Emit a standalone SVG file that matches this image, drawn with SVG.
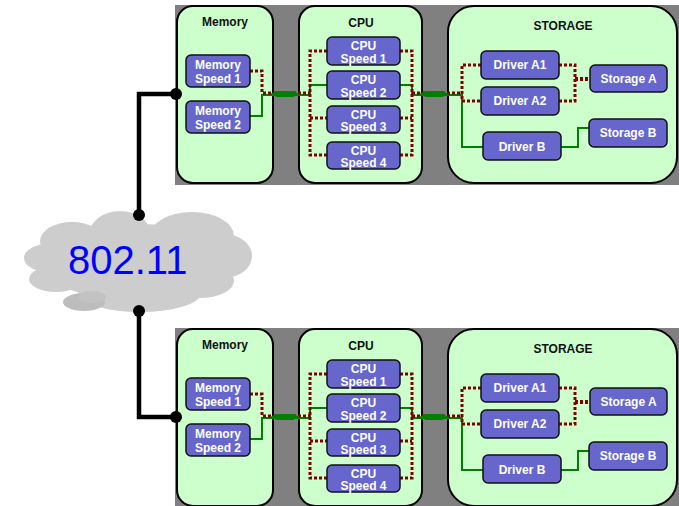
<svg xmlns="http://www.w3.org/2000/svg" width="679" height="506" viewBox="0 0 679 506">
  <style>
    .bg { fill: #808080; }
    .panel { fill: #ccffcc; stroke: #000; stroke-width: 2; }
    .node { fill: #6666cc; stroke: #111; stroke-width: 1.5; }
    .title { font-family: "Liberation Sans", Arial, sans-serif; font-weight: bold; font-size: 12px; fill: #111; text-anchor: middle; }
    .lbl { font-family: "Liberation Sans", Arial, sans-serif; font-weight: bold; font-size: 12px; fill: #fff; text-anchor: middle; }
    .dot { fill: none; stroke: #800000; stroke-width: 3; stroke-dasharray: 3 2; }
    .dot4 { fill: none; stroke: #800000; stroke-width: 4; stroke-dasharray: 3 2; }
    .grn { fill: none; stroke: #008000; stroke-width: 2; }
    .bar { fill: #008000; }
    .wire { fill: none; stroke: #000; stroke-width: 4.5; }
    .cloud ellipse { fill: #cdcdcd; }
    .net { font-family: "Liberation Sans", Arial, sans-serif; font-size: 40px; fill: #0000ff; }
  </style>

  <!-- wireless network cloud -->
  <g id="net-80211" class="cloud">
    <ellipse cx="138" cy="262" rx="100" ry="38"/>
    <ellipse cx="72" cy="241" rx="32" ry="19"/>
    <ellipse cx="120" cy="233" rx="30" ry="22"/>
    <ellipse cx="192" cy="236" rx="42" ry="24"/>
    <ellipse cx="224" cy="256" rx="28" ry="22"/>
    <ellipse cx="200" cy="281" rx="34" ry="17"/>
    <ellipse cx="52" cy="258" rx="28" ry="15"/>
    <ellipse cx="56" cy="279" rx="27" ry="13"/>
    <ellipse cx="140" cy="292" rx="62" ry="20"/>
    <ellipse cx="84" cy="302" rx="21" ry="9" style="fill:#bdbdbd"/>
    <ellipse cx="92" cy="297" rx="14" ry="6" style="fill:#c2c2c2"/>
    <text class="net" x="68" y="273.5">802.11</text>
  </g>

  <!-- upper site -->
  <g id="site-a">
    <rect class="bg" x="175" y="5" width="504" height="180"/>
    <g id="a-memory">
      <rect class="panel" x="177" y="6" width="96" height="177" rx="16"/>
      <text class="title" x="225" y="26">Memory</text>
    </g>
    <g id="a-cpu">
      <rect class="panel" x="299" y="6" width="123" height="177" rx="16"/>
      <text class="title" x="361" y="26.5">CPU</text>
    </g>
    <g id="a-storage">
      <rect class="panel" x="448" y="6" width="229" height="177" rx="26"/>
      <text class="title" x="563" y="30">STORAGE</text>
    </g>

    <g id="a-links">
      <path class="grn" d="M250,116 H262 V95 H310 V85 H327"/>
      <path class="grn" d="M400,85 H412 V95 H462 V147 H483"/>
      <path class="grn" d="M561,147 H578 V128 H589"/>
      <path class="dot" d="M250,71 H262 V93 H310"/>
      <path class="dot" d="M327,51 H310 V155 H327 M310,118 H327"/>
      <path class="dot" d="M400,51 H412 V155 H400 M400,118 H412"/>
      <path class="dot" d="M412,93 H462"/>
      <path class="dot" d="M481,65 H462 V101 H481"/>
      <path class="dot" d="M559,65 H575 V101 H559"/>
      <path class="dot4" d="M575,79 H590"/>
      <polygon class="bar" points="270,94 277,91 293,91 300,94 293,97 277,97"/>
      <polygon class="bar" points="419,94 426,91 442,91 449,94 442,97 426,97"/>
    </g>

    <g id="a-mem1"><rect class="node" x="186" y="55" width="64" height="32" rx="5"/>
      <text class="lbl" x="218" y="68.5">Memory</text><text class="lbl" x="218" y="82.5">Speed 1</text></g>
    <g id="a-mem2"><rect class="node" x="186" y="101" width="64" height="32" rx="5"/>
      <text class="lbl" x="218" y="114.5">Memory</text><text class="lbl" x="218" y="128.5">Speed 2</text></g>
    <g id="a-cpu1"><rect class="node" x="327" y="37" width="73" height="28" rx="5"/>
      <text class="lbl" x="363.5" y="49.5">CPU</text><text class="lbl" x="363.5" y="63">Speed 1</text></g>
    <g id="a-cpu2"><rect class="node" x="327" y="71" width="73" height="28" rx="5"/>
      <text class="lbl" x="363.5" y="83.5">CPU</text><text class="lbl" x="363.5" y="97">Speed 2</text></g>
    <g id="a-cpu3"><rect class="node" x="327" y="106" width="73" height="27" rx="5"/>
      <text class="lbl" x="363.5" y="118.5">CPU</text><text class="lbl" x="363.5" y="131">Speed 3</text></g>
    <g id="a-cpu4"><rect class="node" x="327" y="142" width="73" height="27" rx="5"/>
      <text class="lbl" x="363.5" y="154.5">CPU</text><text class="lbl" x="363.5" y="167">Speed 4</text></g>
    <g id="a-drva1"><rect class="node" x="481" y="51" width="78" height="28" rx="5"/>
      <text class="lbl" x="520" y="69">Driver A1</text></g>
    <g id="a-drva2"><rect class="node" x="481" y="87" width="78" height="28" rx="5"/>
      <text class="lbl" x="520" y="105">Driver A2</text></g>
    <g id="a-drvb"><rect class="node" x="483" y="132" width="78" height="28" rx="5"/>
      <text class="lbl" x="522" y="150.5">Driver B</text></g>
    <g id="a-sta"><rect class="node" x="590" y="65" width="77" height="27" rx="5"/>
      <text class="lbl" x="628.5" y="83">Storage A</text></g>
    <g id="a-stb"><rect class="node" x="589" y="119" width="78" height="28" rx="5"/>
      <text class="lbl" x="628" y="137">Storage B</text></g>
  </g>

  <!-- lower site -->
  <g id="site-b" transform="translate(0,323)">
    <rect class="bg" x="175" y="5" width="504" height="180"/>
    <g id="b-memory">
      <rect class="panel" x="177" y="6" width="96" height="177" rx="16"/>
      <text class="title" x="225" y="26">Memory</text>
    </g>
    <g id="b-cpu">
      <rect class="panel" x="299" y="6" width="123" height="177" rx="16"/>
      <text class="title" x="361" y="26.5">CPU</text>
    </g>
    <g id="b-storage">
      <rect class="panel" x="448" y="6" width="229" height="177" rx="26"/>
      <text class="title" x="563" y="30">STORAGE</text>
    </g>

    <g id="b-links">
      <path class="grn" d="M250,116 H262 V95 H310 V85 H327"/>
      <path class="grn" d="M400,85 H412 V95 H462 V147 H483"/>
      <path class="grn" d="M561,147 H578 V128 H589"/>
      <path class="dot" d="M250,71 H262 V93 H310"/>
      <path class="dot" d="M327,51 H310 V155 H327 M310,118 H327"/>
      <path class="dot" d="M400,51 H412 V155 H400 M400,118 H412"/>
      <path class="dot" d="M412,93 H462"/>
      <path class="dot" d="M481,65 H462 V101 H481"/>
      <path class="dot" d="M559,65 H575 V101 H559"/>
      <path class="dot4" d="M575,79 H590"/>
      <polygon class="bar" points="270,94 277,91 293,91 300,94 293,97 277,97"/>
      <polygon class="bar" points="419,94 426,91 442,91 449,94 442,97 426,97"/>
    </g>

    <g id="b-mem1"><rect class="node" x="186" y="55" width="64" height="32" rx="5"/>
      <text class="lbl" x="218" y="68.5">Memory</text><text class="lbl" x="218" y="82.5">Speed 1</text></g>
    <g id="b-mem2"><rect class="node" x="186" y="101" width="64" height="32" rx="5"/>
      <text class="lbl" x="218" y="114.5">Memory</text><text class="lbl" x="218" y="128.5">Speed 2</text></g>
    <g id="b-cpu1"><rect class="node" x="327" y="37" width="73" height="28" rx="5"/>
      <text class="lbl" x="363.5" y="49.5">CPU</text><text class="lbl" x="363.5" y="63">Speed 1</text></g>
    <g id="b-cpu2"><rect class="node" x="327" y="71" width="73" height="28" rx="5"/>
      <text class="lbl" x="363.5" y="83.5">CPU</text><text class="lbl" x="363.5" y="97">Speed 2</text></g>
    <g id="b-cpu3"><rect class="node" x="327" y="106" width="73" height="27" rx="5"/>
      <text class="lbl" x="363.5" y="118.5">CPU</text><text class="lbl" x="363.5" y="131">Speed 3</text></g>
    <g id="b-cpu4"><rect class="node" x="327" y="142" width="73" height="27" rx="5"/>
      <text class="lbl" x="363.5" y="154.5">CPU</text><text class="lbl" x="363.5" y="167">Speed 4</text></g>
    <g id="b-drva1"><rect class="node" x="481" y="51" width="78" height="28" rx="5"/>
      <text class="lbl" x="520" y="69">Driver A1</text></g>
    <g id="b-drva2"><rect class="node" x="481" y="87" width="78" height="28" rx="5"/>
      <text class="lbl" x="520" y="105">Driver A2</text></g>
    <g id="b-drvb"><rect class="node" x="483" y="132" width="78" height="28" rx="5"/>
      <text class="lbl" x="522" y="150.5">Driver B</text></g>
    <g id="b-sta"><rect class="node" x="590" y="65" width="77" height="27" rx="5"/>
      <text class="lbl" x="628.5" y="83">Storage A</text></g>
    <g id="b-stb"><rect class="node" x="589" y="119" width="78" height="28" rx="5"/>
      <text class="lbl" x="628" y="137">Storage B</text></g>
  </g>

  <!-- uplinks from each site to the wireless cloud -->
  <g id="uplinks">
    <path class="wire" d="M139,215 V94 H176"/>
    <path class="wire" d="M139,311 V417 H176"/>
    <circle cx="139" cy="215" r="6"/>
    <circle cx="176" cy="94" r="6"/>
    <circle cx="139" cy="311" r="6"/>
    <circle cx="176" cy="417" r="6"/>
  </g>
</svg>
